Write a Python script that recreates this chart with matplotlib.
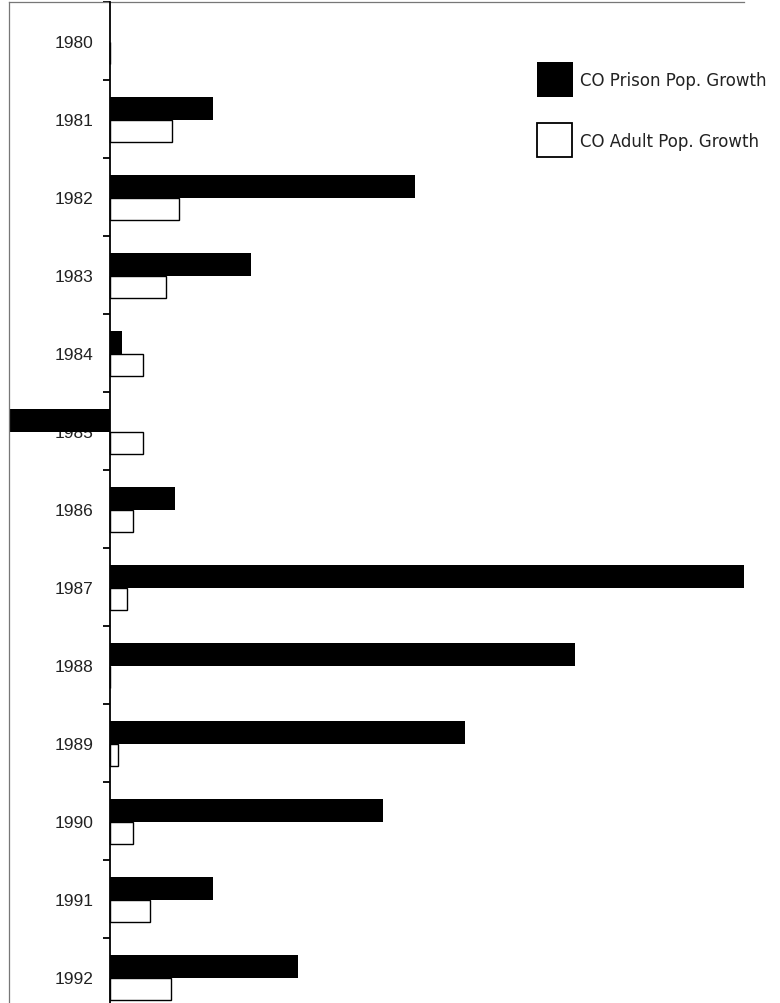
import numpy as np
import matplotlib
matplotlib.use('Agg')
import matplotlib.pyplot as plt
from matplotlib.patches import Rectangle

# Colorado prison vs adult population growth (% per year)
years = ['1980', '1981', '1982', '1983', '1984', '1985', '1986',
         '1987', '1988', '1989', '1990', '1991', '1992']
prison_growth = [0.0, 4.05, 12.0, 5.55, 0.45, -4.5, 2.55,
                 26.0, 18.35, 14.0, 10.75, 4.05, 7.4]
adult_growth = [0.0, 2.45, 2.7, 2.2, 1.3, 1.3, 0.9,
                0.65, 0.0, 0.3, 0.9, 1.55, 2.4]
series_names = ['CO Prison Pop. Growth', 'CO Adult Pop. Growth']

W, H = 780, 1004
fig = plt.figure(figsize=(W / 100, H / 100), dpi=100)
# plot area runs past the bottom edge (the original is cropped there)
ax = fig.add_axes([9 / W, 1 - 1017 / H, 735 / W, 1014 / H])

pos = np.arange(len(years))
bar_h = 0.29
ax.barh(pos - 0.135, prison_growth, height=bar_h, color='black', linewidth=0)
ax.barh(pos + 0.155, adult_growth, height=bar_h, color='white',
        edgecolor='black', linewidth=1.0)

ax.set_xlim(-4, 25)
ax.set_ylim(len(years) - 0.5, -0.5)
# year labels sit under the bars (1985 is covered by its bar)
ax.set_axisbelow(True)

# spines: zero line carries the ticks, thin grey frame top/left
ax.spines['left'].set_position(('data', 0))
ax.spines['left'].set_color('black')
ax.spines['left'].set_linewidth(1.3)
ax.spines['left'].set_zorder(5)
ax.spines['right'].set_visible(False)
ax.spines['bottom'].set_visible(False)
ax.spines['top'].set_color('#777777')
ax.spines['top'].set_linewidth(0.9)
ax.plot([0, 0], [0, 1], transform=ax.transAxes, color='#777777',
        linewidth=0.9, clip_on=False)

ax.set_xticks([])
ax.set_yticks(pos)
ax.set_yticklabels(years, fontfamily='Liberation Sans', fontsize=12.5,
                   color='#222222')
ax.tick_params(axis='y', which='major', length=0, pad=12)
ax.set_yticks(np.arange(-0.5, len(years), 1), minor=True)
ax.tick_params(axis='y', which='minor', length=5, width=1.3,
               color='black', direction='out')

# legend drawn by hand
fig.add_artist(Rectangle((537 / W, 1 - 98 / H), 36 / W, 35 / H,
                         transform=fig.transFigure, facecolor='black',
                         edgecolor='none'))
fig.add_artist(Rectangle((537 / W, 1 - 158 / H), 35 / W, 34 / H,
                         transform=fig.transFigure, facecolor='white',
                         edgecolor='black', linewidth=1.3))
fig.text(580 / W, 1 - 81 / H, series_names[0], va='center', ha='left',
         fontfamily='DejaVu Sans', fontsize=12, color='#222222')
fig.text(580 / W, 1 - 142 / H, series_names[1], va='center', ha='left',
         fontfamily='DejaVu Sans', fontsize=12, color='#222222')

fig.savefig('out.png', dpi=100)
